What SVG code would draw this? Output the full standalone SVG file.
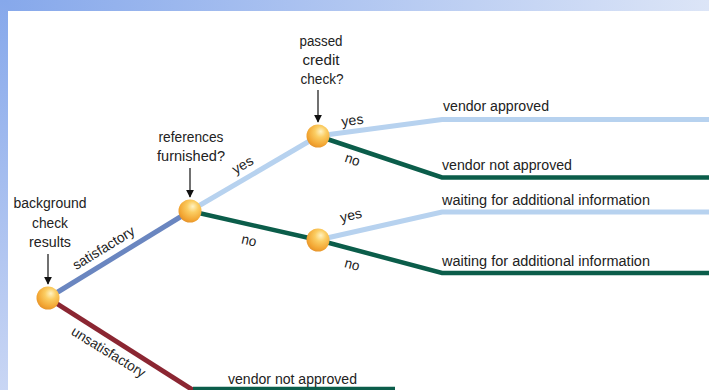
<svg xmlns="http://www.w3.org/2000/svg" width="709" height="390" viewBox="0 0 709 390">
<defs>
<linearGradient id="topbar" x1="0" y1="0" x2="1" y2="0">
<stop offset="0" stop-color="#86a8eb"/>
<stop offset="1" stop-color="#dce5f7"/>
</linearGradient>
<linearGradient id="leftbar" x1="0" y1="0" x2="0" y2="1">
<stop offset="0" stop-color="#86a8eb"/>
<stop offset="1" stop-color="#c9d6f4"/>
</linearGradient>
<radialGradient id="ball" cx="0.6" cy="0.35" r="0.7" fx="0.62" fy="0.3">
<stop offset="0" stop-color="#fff3c4"/>
<stop offset="0.35" stop-color="#fbcd62"/>
<stop offset="0.8" stop-color="#f2a532"/>
<stop offset="1" stop-color="#e3902a"/>
</radialGradient>
<marker id="arr" viewBox="0 0 10 10" refX="9" refY="5" markerWidth="8" markerHeight="10" orient="auto" markerUnits="userSpaceOnUse">
<path d="M0,0 L10,5 L0,10 z" fill="#111"/>
</marker>
<style>
text{font-family:"Liberation Sans",Arial,sans-serif;font-size:14px;fill:#222}
.c{text-anchor:middle}
.lb{stroke:#b7d2ef;stroke-width:5;fill:none}
.mb{stroke:#6a86c0;stroke-width:5;fill:none}
.dg{stroke:#0b5d4a;stroke-width:4.5;fill:none}
.dr{stroke:#8b2632;stroke-width:5;fill:none}
.ar{stroke:#111;stroke-width:1.2;marker-end:url(#arr)}
</style>
</defs>
<rect x="0" y="0" width="709" height="390" fill="#ffffff"/>
<rect x="0" y="0" width="709" height="11" fill="url(#topbar)"/>
<rect x="0" y="0" width="8" height="390" fill="url(#leftbar)"/>

<g id="connectors">
<path class="mb" d="M48,298 L190,211"/>
<path class="dr" d="M48,298 L196,392"/>
<path class="dg" d="M193,389 L395,389"/>
<path class="lb" d="M190,211 L318,136"/>
<path class="dg" d="M190,211 L318,240"/>
<path class="lb" d="M318,136 L442,119.5 L709,119.5"/>
<path class="dg" d="M318,136 L442,177.5 L709,177.5"/>
<path class="lb" d="M318,240 L442,212 L709,212"/>
<path class="dg" d="M318,240 L442,273 L709,273"/>
<line class="ar" x1="48" y1="254" x2="48" y2="284"/>
<line class="ar" x1="190" y1="168" x2="190" y2="197"/>
<line class="ar" x1="318" y1="90" x2="318" y2="122"/>
<text transform="translate(106,252) rotate(-31.5)" class="c" textLength="70" lengthAdjust="spacingAndGlyphs">satisfactory</text>
<text transform="translate(106,356) rotate(31.5)" class="c" textLength="84" lengthAdjust="spacingAndGlyphs">unsatisfactory</text>
<text transform="translate(245,169) rotate(-30.4)" class="c" textLength="22" lengthAdjust="spacingAndGlyphs">yes</text>
<text transform="translate(248,245) rotate(12.8)" class="c" textLength="15" lengthAdjust="spacingAndGlyphs">no</text>
<text transform="translate(353,125) rotate(-7.5)" class="c" textLength="22" lengthAdjust="spacingAndGlyphs">yes</text>
<text transform="translate(351,164) rotate(18.6)" class="c" textLength="15" lengthAdjust="spacingAndGlyphs">no</text>
<text transform="translate(352,220) rotate(-12.9)" class="c" textLength="22" lengthAdjust="spacingAndGlyphs">yes</text>
<text transform="translate(351,269) rotate(15)" class="c" textLength="15" lengthAdjust="spacingAndGlyphs">no</text>
<text x="443" y="111" textLength="106" lengthAdjust="spacingAndGlyphs">vendor approved</text>
<text x="442" y="170" textLength="130" lengthAdjust="spacingAndGlyphs">vendor not approved</text>
<text x="442" y="205" textLength="208" lengthAdjust="spacingAndGlyphs">waiting for additional information</text>
<text x="442" y="266" textLength="208" lengthAdjust="spacingAndGlyphs">waiting for additional information</text>
<text x="228" y="384" textLength="129" lengthAdjust="spacingAndGlyphs">vendor not approved</text>
</g>

<g id="node-background">
<text x="50" y="208" class="c" textLength="73" lengthAdjust="spacingAndGlyphs">background</text>
<text x="50" y="228" class="c" textLength="36" lengthAdjust="spacingAndGlyphs">check</text>
<text x="50" y="247" class="c" textLength="42" lengthAdjust="spacingAndGlyphs">results</text>
<circle cx="48" cy="298" r="11.5" fill="url(#ball)"/>
</g>
<g id="node-references">
<text x="191" y="142" class="c" textLength="65" lengthAdjust="spacingAndGlyphs">references</text>
<text x="191" y="161" class="c" textLength="68" lengthAdjust="spacingAndGlyphs">furnished?</text>
<circle cx="190" cy="211" r="11.5" fill="url(#ball)"/>
</g>
<g id="node-credit">
<text x="321" y="46" class="c" textLength="43" lengthAdjust="spacingAndGlyphs">passed</text>
<text x="321" y="65" class="c" textLength="37" lengthAdjust="spacingAndGlyphs">credit</text>
<text x="322" y="84" class="c" textLength="43" lengthAdjust="spacingAndGlyphs">check?</text>
<circle cx="318" cy="136" r="11.5" fill="url(#ball)"/>
</g>
<g id="node-wait">
<circle cx="318" cy="240" r="11.5" fill="url(#ball)"/>
</g>
</svg>
